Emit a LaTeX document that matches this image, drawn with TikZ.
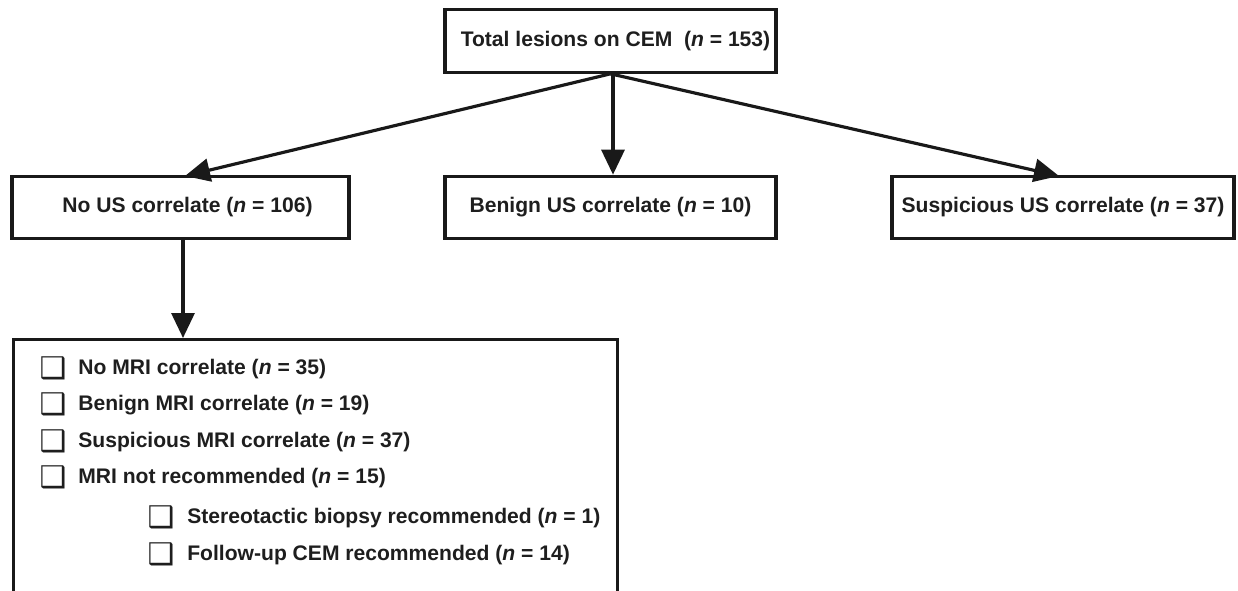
\documentclass[tikz,border=0pt]{standalone}
\usepackage{fontspec}
\setmainfont{Liberation Sans}
\newfontfamily\symfont{DejaVu Sans}
\usetikzlibrary{arrows.meta}
\definecolor{boxline}{RGB}{25, 25, 25}
\definecolor{boxtext}{RGB}{30, 30, 30}
\newcommand{\nn}{\textit{n}}
\newcommand{\chkbox}{{\symfont\bfseries\fontsize{17}{17}\selectfont ❑}}

\begin{document}
\begin{tikzpicture}[x=0.02cm, y=-0.02cm,
	box/.style={draw=boxline, line width=1.8pt, text=boxtext, font=\fontsize{12}{14}\selectfont\bfseries, inner sep=0pt, minimum height=1.25cm},
	item/.style={anchor=west, text=boxtext, font=\fontsize{12}{14}\selectfont\bfseries, inner sep=0pt},
	chk/.style={text=boxtext, inner sep=0pt},
	link/.style={draw=boxline, line width=1.8pt, -{Triangle[length=0.5cm, width=0.46cm]}}]
	\useasboundingbox (0,0) rectangle (1238,591);
	% Kasten oben und die drei US-Kasten
	\node[box, minimum width=6.62cm] (total) at (610.5,41) {\hspace{0.2cm}Total lesions on CEM\ \ (\nn\ = 153)};
	\node[box, minimum width=6.74cm] (nous) at (180.5,207.5) {\hspace{0.28cm}No US correlate (\nn\ = 106)};
	\node[box, minimum width=6.62cm] (benign) at (610.5,207.5) {Benign US correlate (\nn\ = 10)};
	\node[box, minimum width=6.84cm] (susp) at (1063,207.5) {Suspicious US correlate (\nn\ = 37)};
	\node[draw=boxline, line width=1.8pt, anchor=north west, minimum width=12.08cm, minimum height=6cm, inner sep=0pt] (mri) at (12,338) {};
	\draw[link] (total.south) -- (185,176);
	\draw[link] (total.south -| 613,0) -- (benign.north -| 613,0);
	\draw[link] (total.south) -- (1059,176);
	\draw[link] (nous.south -| 183,0) -- (mri.north -| 183,0);
	% Liste im unteren Kasten
	\node[chk] (c1) at (53,368) {\chkbox};
	\node[chk] (c2) at (53,404) {\chkbox};
	\node[chk] (c3) at (53,441) {\chkbox};
	\node[chk] (c4) at (53,477) {\chkbox};
	\node[chk] (c5) at (161,517) {\chkbox};
	\node[chk] (c6) at (161,554) {\chkbox};
	\node[item] (t1) at (78,369) {No MRI correlate (\nn\ = 35)};
	\node[item] (t2) at (78,405) {Benign MRI correlate (\nn\ = 19)};
	\node[item] (t3) at (78,442) {Suspicious MRI correlate (\nn\ = 37)};
	\node[item] (t4) at (78,478) {MRI not recommended (\nn\ = 15)};
	\node[item] (t5) at (187,518) {Stereotactic biopsy recommended (\nn\ = 1)};
	\node[item] (t6) at (187,555) {Follow-up CEM recommended (\nn\ = 14)};
\end{tikzpicture}
\end{document}
